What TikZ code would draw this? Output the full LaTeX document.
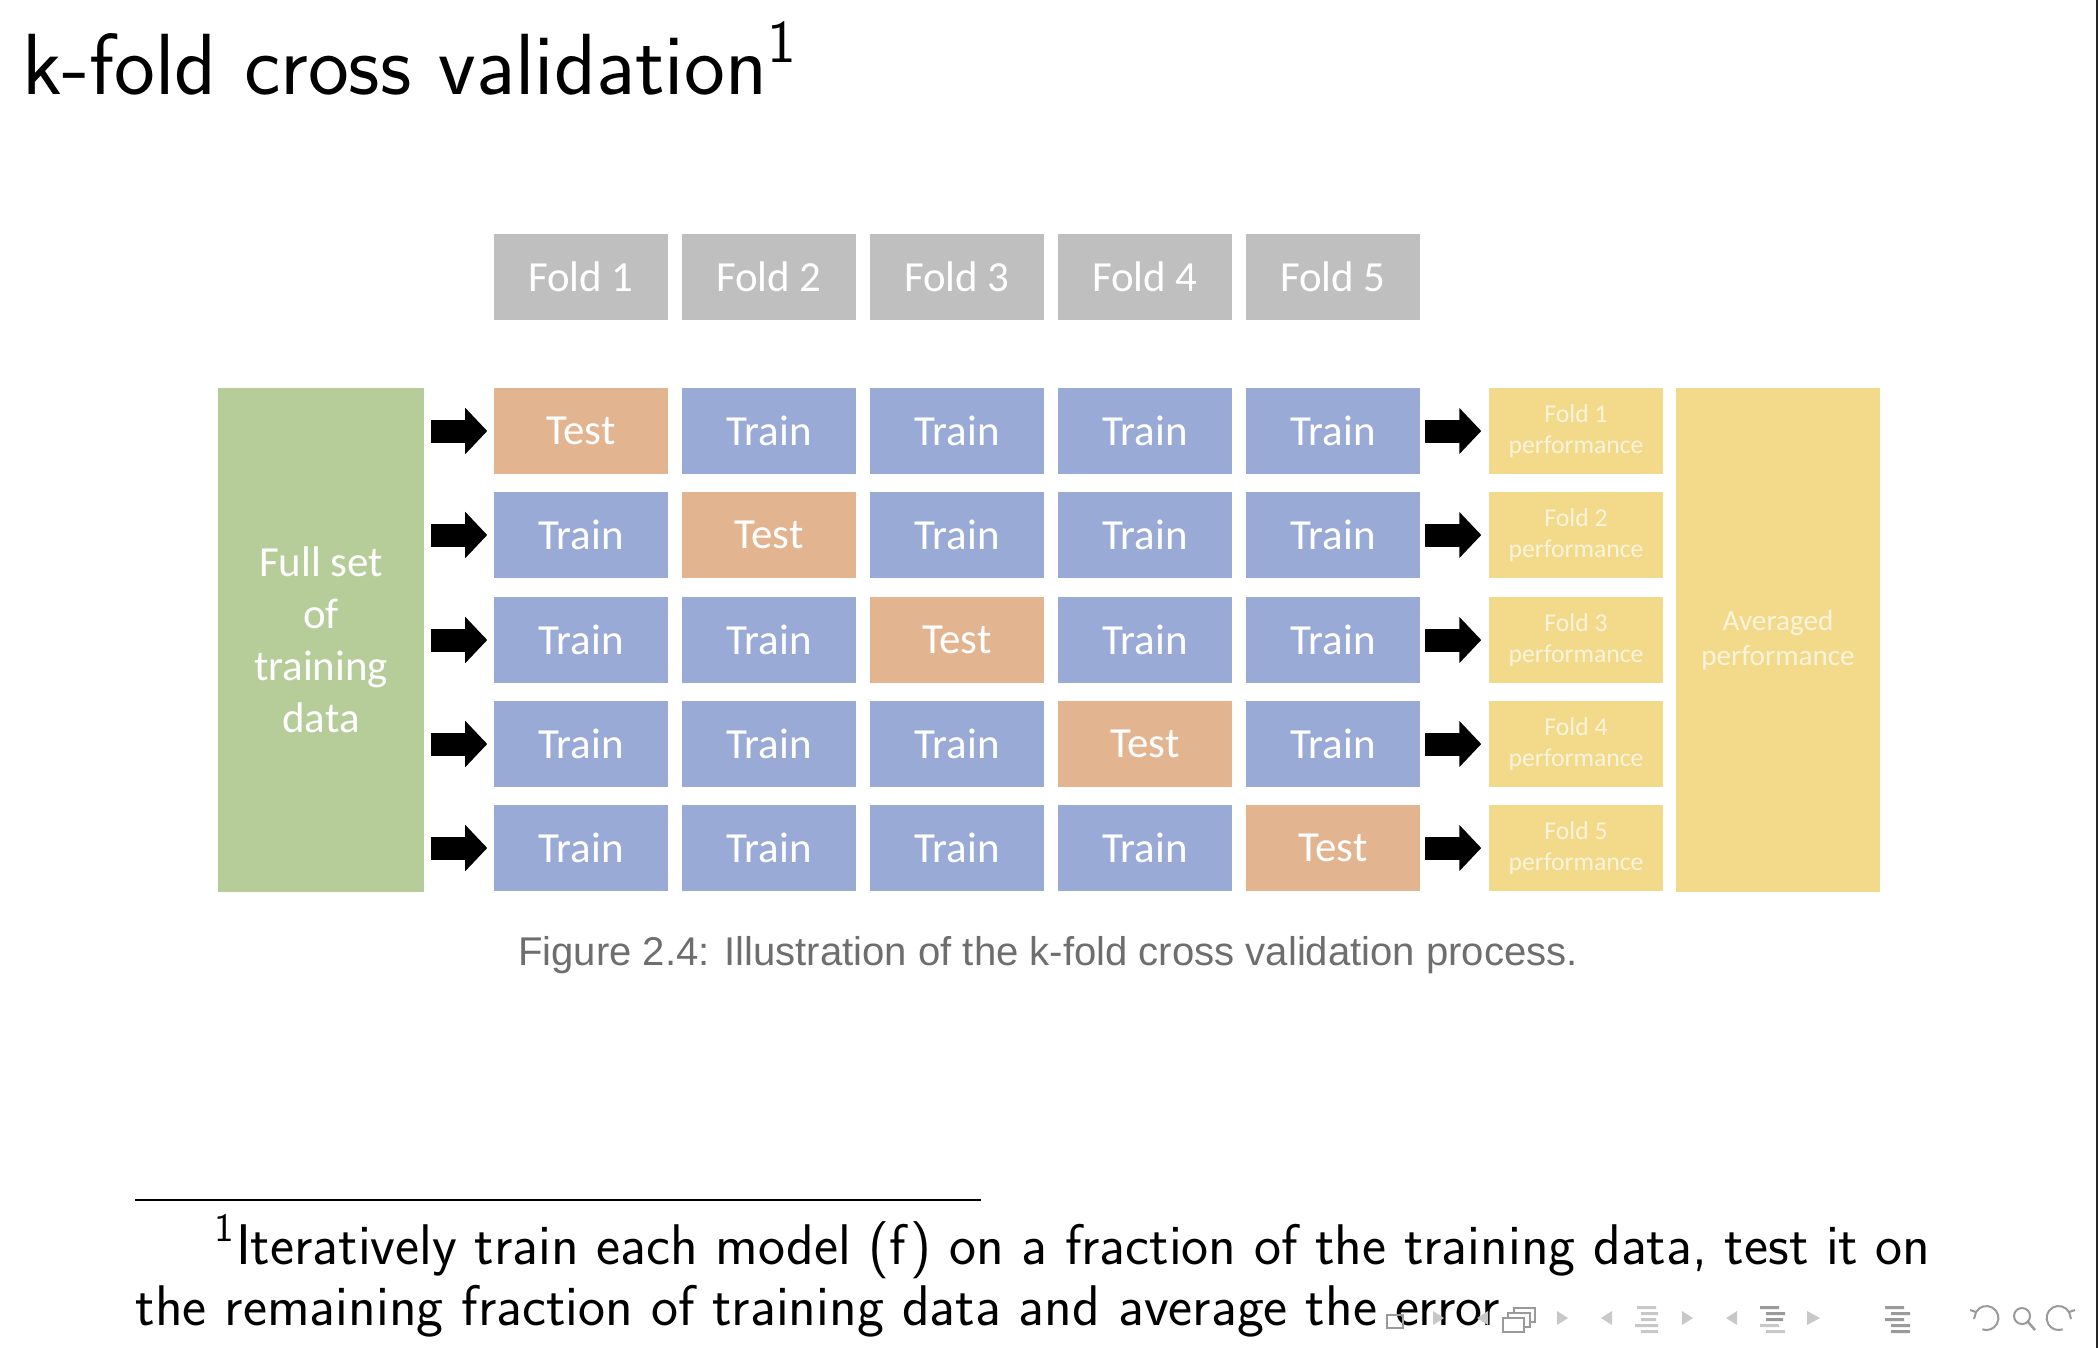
\documentclass[tikz,border=0pt]{standalone}
\usepackage{fontspec}
\usetikzlibrary{arrows.meta}

\newfontfamily\carlito{Carlito}
\newfontfamily\liber{Liberation Sans}

\definecolor{foldgray}{HTML}{BFBFBF}
\definecolor{testorange}{HTML}{E2B48F}
\definecolor{trainblue}{HTML}{9AAAD6}
\definecolor{fullgreen}{HTML}{B7CD99}
\definecolor{perfyellow}{HTML}{F3D98A}
\definecolor{captiongray}{HTML}{6E6E6E}
\definecolor{navgray}{HTML}{9A9A9A}
\definecolor{navlight}{HTML}{C8C8C8}

\tikzset{
    cell/.style={minimum width=1.74cm, minimum height=0.86cm, inner sep=0pt, text=white,
        font=\carlito\fontsize{12.2}{14}\selectfont},
    foldcell/.style={cell, fill=foldgray, minimum height=0.85cm},
    traincell/.style={cell, fill=trainblue},
    testcell/.style={cell, fill=testorange},
    perfcell/.style={cell, fill=perfyellow, text=white!70!perfyellow, align=center,
        font=\carlito\fontsize{7.3}{8.8}\selectfont},
    bigbox/.style={minimum height=5.03cm, inner sep=0pt, text=white, align=center},
    blockarrow/.style={line width=0.23cm, -{Triangle[length=0.22cm, width=0.45cm]}}
}

\begin{document}
\begin{tikzpicture}[x=0.01cm, y=-0.01cm]
            \useasboundingbox ( 0, 0 ) rectangle ( 2098, 1348 );
            % заголовок
            \node [anchor=base west, inner sep=0pt, font=\sffamily\fontsize{24.7}{29}\selectfont] (title) at ( 22, 94 ) {k-fold cross validation\textsuperscript{1}};

            % фолды
            \node [foldcell] (f1) at ( 581, 277 ) {Fold 1};
            \node [foldcell] (f2) at ( 769, 277 ) {Fold 2};
            \node [foldcell] (f3) at ( 957, 277 ) {Fold 3};
            \node [foldcell] (f4) at ( 1145, 277 ) {Fold 4};
            \node [foldcell] (f5) at ( 1333, 277 ) {Fold 5};

            % все данные
            \node [bigbox, fill=fullgreen, minimum width=2.06cm, font=\carlito\fontsize{12.2}{14.8}\selectfont] (full) at ( 321, 640 ) {Full set\\of\\training\\data};

            % строки
            \node [testcell] (c11) at ( 581, 431 ) {Test};
            \node [traincell] (c12) at ( 769, 431 ) {Train};
            \node [traincell] (c13) at ( 957, 431 ) {Train};
            \node [traincell] (c14) at ( 1145, 431 ) {Train};
            \node [traincell] (c15) at ( 1333, 431 ) {Train};

            \node [traincell] (c21) at ( 581, 535 ) {Train};
            \node [testcell] (c22) at ( 769, 535 ) {Test};
            \node [traincell] (c23) at ( 957, 535 ) {Train};
            \node [traincell] (c24) at ( 1145, 535 ) {Train};
            \node [traincell] (c25) at ( 1333, 535 ) {Train};

            \node [traincell] (c31) at ( 581, 640 ) {Train};
            \node [traincell] (c32) at ( 769, 640 ) {Train};
            \node [testcell] (c33) at ( 957, 640 ) {Test};
            \node [traincell] (c34) at ( 1145, 640 ) {Train};
            \node [traincell] (c35) at ( 1333, 640 ) {Train};

            \node [traincell] (c41) at ( 581, 744 ) {Train};
            \node [traincell] (c42) at ( 769, 744 ) {Train};
            \node [traincell] (c43) at ( 957, 744 ) {Train};
            \node [testcell] (c44) at ( 1145, 744 ) {Test};
            \node [traincell] (c45) at ( 1333, 744 ) {Train};

            \node [traincell] (c51) at ( 581, 848 ) {Train};
            \node [traincell] (c52) at ( 769, 848 ) {Train};
            \node [traincell] (c53) at ( 957, 848 ) {Train};
            \node [traincell] (c54) at ( 1145, 848 ) {Train};
            \node [testcell] (c55) at ( 1333, 848 ) {Test};

            % результаты
            \node [perfcell] (p1) at ( 1576, 431 ) {Fold 1\\performance};
            \node [perfcell] (p2) at ( 1576, 535 ) {Fold 2\\performance};
            \node [perfcell] (p3) at ( 1576, 640 ) {Fold 3\\performance};
            \node [perfcell] (p4) at ( 1576, 744 ) {Fold 4\\performance};
            \node [perfcell] (p5) at ( 1576, 848 ) {Fold 5\\performance};
            \node [bigbox, fill=perfyellow, minimum width=2.04cm, text=white!70!perfyellow, font=\carlito\fontsize{8.3}{10}\selectfont] (avg) at ( 1778, 640 ) {Averaged\\performance};

            % стрелки
            \draw [blockarrow, shorten <=0.06cm, shorten >=0.06cm] (full.east |- c11) -- (c11.west);
            \draw [blockarrow, shorten <=0.06cm, shorten >=0.06cm] (full.east |- c21) -- (c21.west);
            \draw [blockarrow, shorten <=0.06cm, shorten >=0.06cm] (full.east |- c31) -- (c31.west);
            \draw [blockarrow, shorten <=0.06cm, shorten >=0.06cm] (full.east |- c41) -- (c41.west);
            \draw [blockarrow, shorten <=0.06cm, shorten >=0.06cm] (full.east |- c51) -- (c51.west);
            \draw [blockarrow, shorten <=0.04cm, shorten >=0.07cm] (c15.east) -- (p1.west);
            \draw [blockarrow, shorten <=0.04cm, shorten >=0.07cm] (c25.east) -- (p2.west);
            \draw [blockarrow, shorten <=0.04cm, shorten >=0.07cm] (c35.east) -- (p3.west);
            \draw [blockarrow, shorten <=0.04cm, shorten >=0.07cm] (c45.east) -- (p4.west);
            \draw [blockarrow, shorten <=0.04cm, shorten >=0.07cm] (c55.east) -- (p5.west);

            % подпись
            \node [text=captiongray, font=\liber\fontsize{11.4}{13}\selectfont] (caption) at ( 1048, 955 ) {Figure 2.4: Illustration of the k-fold cross validation process.};

            % сноска
            \draw [line width=0.02cm] ( 135, 1200 ) -- ( 981, 1200 );
            \node [anchor=base west, inner sep=0pt, font=\sffamily\fontsize{16.3}{18}\selectfont] (fn1) at ( 214, 1264 ) {\makebox[17.15cm][s]{\textsuperscript{1}Iteratively train each model (f) on a fraction of the training data, test it on}};
            \node [anchor=base west, inner sep=0pt, font=\sffamily\fontsize{16.3}{18}\selectfont] (fn2) at ( 135, 1325 ) {the remaining fraction of training data and average the error};

            % навигация
            \draw [navgray, line width=0.015cm] ( 1387, 1315 ) rectangle ( 1403, 1328 );
            \fill [navlight] ( 1433, 1311 ) -- ( 1444, 1318 ) -- ( 1433, 1325 ) -- cycle;
            \fill [navlight] ( 1488, 1311 ) -- ( 1477, 1318 ) -- ( 1488, 1325 ) -- cycle;
            \draw [navgray, line width=0.015cm] ( 1503, 1318 ) rectangle ( 1524, 1332 );
            \draw [navgray, line width=0.015cm] ( 1508, 1318 ) -- ( 1508, 1313 ) -- ( 1530, 1313 ) -- ( 1530, 1327 ) -- ( 1524, 1327 );
            \draw [navgray, line width=0.015cm] ( 1514, 1313 ) -- ( 1514, 1308 ) -- ( 1535, 1308 ) -- ( 1535, 1322 ) -- ( 1530, 1322 );
            \fill [navlight] ( 1557, 1311 ) -- ( 1568, 1318 ) -- ( 1557, 1325 ) -- cycle;
            \fill [navlight] ( 1612, 1311 ) -- ( 1601, 1318 ) -- ( 1612, 1325 ) -- cycle;
            \fill [navlight] ( 1637, 1306 ) rectangle ( 1656, 1309 ) ( 1641, 1312 ) rectangle ( 1658, 1315 ) ( 1641, 1318 ) rectangle ( 1656, 1321 ) ( 1635, 1324 ) rectangle ( 1658, 1327 ) ( 1641, 1330 ) rectangle ( 1658, 1333 );
            \fill [navlight] ( 1682, 1311 ) -- ( 1693, 1318 ) -- ( 1682, 1325 ) -- cycle;
            \fill [navlight] ( 1737, 1311 ) -- ( 1726, 1318 ) -- ( 1737, 1325 ) -- cycle;
            \fill [navgray] ( 1760, 1306 ) rectangle ( 1779, 1309 ) ( 1766, 1312 ) rectangle ( 1785, 1315 ) ( 1766, 1318 ) rectangle ( 1783, 1321 );
            \fill [navlight] ( 1760, 1324 ) rectangle ( 1779, 1327 ) ( 1766, 1330 ) rectangle ( 1785, 1333 );
            \fill [navlight] ( 1807, 1311 ) -- ( 1820, 1318 ) -- ( 1807, 1325 ) -- cycle;
            \fill [navgray] ( 1885, 1306 ) rectangle ( 1904, 1309 ) ( 1891, 1312 ) rectangle ( 1910, 1315 ) ( 1885, 1318 ) rectangle ( 1904, 1321 ) ( 1891, 1324 ) rectangle ( 1910, 1327 ) ( 1891, 1330 ) rectangle ( 1910, 1333 );
            \draw [navgray, line width=0.02cm] ( 1976, 1312 ) arc [start angle=150, end angle=-110, radius=0.12cm];
            \draw [navgray, line width=0.02cm] ( 1970, 1310 ) -- ( 1976, 1312 ) -- ( 1974, 1319 );
            \draw [navgray, line width=0.02cm] ( 2022, 1316 ) circle [radius=0.08cm];
            \draw [navgray, line width=0.025cm] ( 2028, 1322 ) -- ( 2035, 1330 );
            \draw [navgray, line width=0.02cm] ( 2069, 1312 ) arc [start angle=30, end angle=290, radius=0.12cm];
            \draw [navgray, line width=0.02cm] ( 2075, 1310 ) -- ( 2069, 1312 ) -- ( 2071, 1319 );

            % рамка
            \draw [black!85, line width=0.02cm] ( 2097, 0 ) -- ( 2097, 1348 );
        \end{tikzpicture}
\end{document}
